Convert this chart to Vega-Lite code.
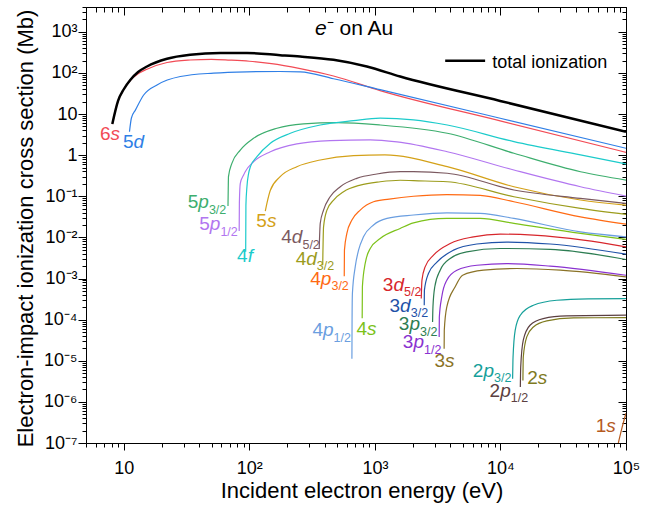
{
  "$schema": "https://vega.github.io/schema/vega-lite/v6.json",
  "width": 540,
  "height": 436,
  "autosize": {"type": "none"},
  "padding": {"left": 86, "top": 7, "right": 29, "bottom": 67},
  "background": "white",
  "config": {
    "view": {"stroke": null},
    "font": "Liberation Sans",
    "axis": {"grid": false, "domainColor": "black", "domainWidth": 1, "tickColor": "black", "tickWidth": 1, "labelColor": "black", "titleColor": "black", "labelFont": "Liberation Sans", "titleFont": "Liberation Sans", "titleFontWeight": "normal", "labelFlush": false, "labelOverlap": false, "labelBound": false}
  },
  "datasets": {
    "total": [
      {"E": 8.1, "sigma": 5.7}, {"E": 9.0, "sigma": 20.8}, {"E": 10.0, "sigma": 40}, {"E": 11.3, "sigma": 68}, {"E": 13, "sigma": 105},
      {"E": 15.3, "sigma": 143}, {"E": 22.1, "sigma": 220}, {"E": 33.8, "sigma": 275}, {"E": 58.6, "sigma": 303}, {"E": 95.7, "sigma": 303},
      {"E": 176, "sigma": 270}, {"E": 254, "sigma": 250}, {"E": 468, "sigma": 208}, {"E": 863, "sigma": 143}, {"E": 1590, "sigma": 81.5},
      {"E": 9950, "sigma": 20.8}, {"E": 100000, "sigma": 3.72}
    ],
    "curves": [
      {"shell": "6s", "E": 8.1, "sigma": 5.7}, {"shell": "6s", "E": 9.0, "sigma": 20.8}, {"shell": "6s", "E": 10.0, "sigma": 40}, {"shell": "6s", "E": 11.3, "sigma": 66},
      {"shell": "6s", "E": 13, "sigma": 95}, {"shell": "6s", "E": 15.3, "sigma": 123}, {"shell": "6s", "E": 22.1, "sigma": 179}, {"shell": "6s", "E": 33.8, "sigma": 206},
      {"shell": "6s", "E": 50, "sigma": 214}, {"shell": "6s", "E": 70, "sigma": 205}, {"shell": "6s", "E": 100, "sigma": 192}, {"shell": "6s", "E": 150, "sigma": 168},
      {"shell": "6s", "E": 254, "sigma": 127}, {"shell": "6s", "E": 468, "sigma": 84}, {"shell": "6s", "E": 1100, "sigma": 37}, {"shell": "6s", "E": 9950, "sigma": 6.8},
      {"shell": "6s", "E": 100000, "sigma": 1.17},

      {"shell": "5d", "E": 11.1, "sigma": 3.7}, {"shell": "5d", "E": 11.5, "sigma": 8}, {"shell": "5d", "E": 12.4, "sigma": 12.6}, {"shell": "5d", "E": 14.4, "sigma": 29},
      {"shell": "5d", "E": 18.4, "sigma": 51}, {"shell": "5d", "E": 28.2, "sigma": 81.5}, {"shell": "5d", "E": 51.9, "sigma": 98.7}, {"shell": "5d", "E": 95.7, "sigma": 106},
      {"shell": "5d", "E": 176, "sigma": 108}, {"shell": "5d", "E": 254, "sigma": 106}, {"shell": "5d", "E": 468, "sigma": 72}, {"shell": "5d", "E": 1100, "sigma": 39},
      {"shell": "5d", "E": 9950, "sigma": 7.9}, {"shell": "5d", "E": 100000, "sigma": 1.47},

      {"shell": "5p3/2", "E": 67.6, "sigma": 0.0577}, {"shell": "5p3/2", "E": 67.9, "sigma": 0.15}, {"shell": "5p3/2", "E": 68.2, "sigma": 0.3}, {"shell": "5p3/2", "E": 72.6, "sigma": 0.63},
      {"shell": "5p3/2", "E": 84.7, "sigma": 1.33}, {"shell": "5p3/2", "E": 108, "sigma": 2.57}, {"shell": "5p3/2", "E": 166, "sigma": 4.5}, {"shell": "5p3/2", "E": 270, "sigma": 5.74},
      {"shell": "5p3/2", "E": 497, "sigma": 6.17}, {"shell": "5p3/2", "E": 1100, "sigma": 5.4}, {"shell": "5p3/2", "E": 3770, "sigma": 3.4}, {"shell": "5p3/2", "E": 12800, "sigma": 1.11},
      {"shell": "5p3/2", "E": 43400, "sigma": 0.395}, {"shell": "5p3/2", "E": 100000, "sigma": 0.248},

      {"shell": "5p1/2", "E": 83, "sigma": 0.0142}, {"shell": "5p1/2", "E": 83.3, "sigma": 0.07}, {"shell": "5p1/2", "E": 84.7, "sigma": 0.206}, {"shell": "5p1/2", "E": 90, "sigma": 0.328},
      {"shell": "5p1/2", "E": 92.7, "sigma": 0.395}, {"shell": "5p1/2", "E": 108, "sigma": 0.69}, {"shell": "5p1/2", "E": 147, "sigma": 1.21}, {"shell": "5p1/2", "E": 239, "sigma": 1.87},
      {"shell": "5p1/2", "E": 440, "sigma": 2.25}, {"shell": "5p1/2", "E": 918, "sigma": 2.35}, {"shell": "5p1/2", "E": 1500, "sigma": 2.1}, {"shell": "5p1/2", "E": 3770, "sigma": 1.21},
      {"shell": "5p1/2", "E": 12800, "sigma": 0.434}, {"shell": "5p1/2", "E": 43400, "sigma": 0.17}, {"shell": "5p1/2", "E": 100000, "sigma": 0.101},

      {"shell": "4f", "E": 93.5, "sigma": 0.0045}, {"shell": "4f", "E": 93.9, "sigma": 0.06}, {"shell": "4f", "E": 95.7, "sigma": 0.171}, {"shell": "4f", "E": 98.5, "sigma": 0.35},
      {"shell": "4f", "E": 102, "sigma": 0.524}, {"shell": "4f", "E": 115, "sigma": 0.917}, {"shell": "4f", "E": 147, "sigma": 1.95}, {"shell": "4f", "E": 212, "sigma": 3.4},
      {"shell": "4f", "E": 367, "sigma": 5.4}, {"shell": "4f", "E": 676, "sigma": 6.9}, {"shell": "4f", "E": 1100, "sigma": 7.9}, {"shell": "4f", "E": 2030, "sigma": 7.2},
      {"shell": "4f", "E": 3770, "sigma": 5.4}, {"shell": "4f", "E": 12800, "sigma": 2.13}, {"shell": "4f", "E": 43400, "sigma": 1.01}, {"shell": "4f", "E": 100000, "sigma": 0.61},

      {"shell": "5s", "E": 134, "sigma": 0.0436}, {"shell": "5s", "E": 138, "sigma": 0.067}, {"shell": "5s", "E": 147, "sigma": 0.14}, {"shell": "5s", "E": 176, "sigma": 0.3},
      {"shell": "5s", "E": 239, "sigma": 0.524}, {"shell": "5s", "E": 367, "sigma": 0.762}, {"shell": "5s", "E": 676, "sigma": 0.97}, {"shell": "5s", "E": 1200, "sigma": 1.01},
      {"shell": "5s", "E": 3770, "sigma": 0.524}, {"shell": "5s", "E": 12800, "sigma": 0.17}, {"shell": "5s", "E": 43400, "sigma": 0.081}, {"shell": "5s", "E": 100000, "sigma": 0.061},

      {"shell": "4d5/2", "E": 360, "sigma": 0.0052}, {"shell": "4d5/2", "E": 367, "sigma": 0.0219}, {"shell": "4d5/2", "E": 390, "sigma": 0.0461}, {"shell": "4d5/2", "E": 440, "sigma": 0.0973},
      {"shell": "4d5/2", "E": 530, "sigma": 0.171}, {"shell": "4d5/2", "E": 717, "sigma": 0.273}, {"shell": "4d5/2", "E": 1036, "sigma": 0.348}, {"shell": "4d5/2", "E": 1590, "sigma": 0.395},
      {"shell": "4d5/2", "E": 2030, "sigma": 0.395}, {"shell": "4d5/2", "E": 3770, "sigma": 0.363}, {"shell": "4d5/2", "E": 12800, "sigma": 0.142}, {"shell": "4d5/2", "E": 43400, "sigma": 0.089},
      {"shell": "4d5/2", "E": 100000, "sigma": 0.067},

      {"shell": "4d3/2", "E": 384, "sigma": 0.0021}, {"shell": "4d3/2", "E": 390, "sigma": 0.018}, {"shell": "4d3/2", "E": 415, "sigma": 0.0461}, {"shell": "4d3/2", "E": 469, "sigma": 0.0807},
      {"shell": "4d3/2", "E": 563, "sigma": 0.129}, {"shell": "4d3/2", "E": 764, "sigma": 0.187}, {"shell": "4d3/2", "E": 1102, "sigma": 0.225}, {"shell": "4d3/2", "E": 1590, "sigma": 0.245},
      {"shell": "4d3/2", "E": 2030, "sigma": 0.239}, {"shell": "4d3/2", "E": 3770, "sigma": 0.225}, {"shell": "4d3/2", "E": 12800, "sigma": 0.0973}, {"shell": "4d3/2", "E": 43400, "sigma": 0.0507},
      {"shell": "4d3/2", "E": 100000, "sigma": 0.0362},

      {"shell": "4p3/2", "E": 570, "sigma": 0.00114}, {"shell": "4p3/2", "E": 572, "sigma": 0.0049}, {"shell": "4p3/2", "E": 598, "sigma": 0.0125}, {"shell": "4p3/2", "E": 656, "sigma": 0.0263},
      {"shell": "4p3/2", "E": 764, "sigma": 0.0461}, {"shell": "4p3/2", "E": 975, "sigma": 0.0735}, {"shell": "4p3/2", "E": 1300, "sigma": 0.085}, {"shell": "4p3/2", "E": 2030, "sigma": 0.1},
      {"shell": "4p3/2", "E": 3740, "sigma": 0.11}, {"shell": "4p3/2", "E": 6900, "sigma": 0.105}, {"shell": "4p3/2", "E": 12800, "sigma": 0.0735}, {"shell": "4p3/2", "E": 43400, "sigma": 0.0316},
      {"shell": "4p3/2", "E": 100000, "sigma": 0.021},

      {"shell": "4p1/2", "E": 656, "sigma": 0.0000112}, {"shell": "4p1/2", "E": 658, "sigma": 0.0001}, {"shell": "4p1/2", "E": 662, "sigma": 0.00043}, {"shell": "4p1/2", "E": 697, "sigma": 0.00192},
      {"shell": "4p1/2", "E": 741, "sigma": 0.0049}, {"shell": "4p1/2", "E": 811, "sigma": 0.0103}, {"shell": "4p1/2", "E": 975, "sigma": 0.02}, {"shell": "4p1/2", "E": 1248, "sigma": 0.0289},
      {"shell": "4p1/2", "E": 2030, "sigma": 0.035}, {"shell": "4p1/2", "E": 3740, "sigma": 0.0396}, {"shell": "4p1/2", "E": 6900, "sigma": 0.0384}, {"shell": "4p1/2", "E": 12800, "sigma": 0.0289},
      {"shell": "4p1/2", "E": 43400, "sigma": 0.0136}, {"shell": "4p1/2", "E": 100000, "sigma": 0.0103},

      {"shell": "4s", "E": 792, "sigma": 0.000108}, {"shell": "4s", "E": 795, "sigma": 0.00063}, {"shell": "4s", "E": 837, "sigma": 0.00232}, {"shell": "4s", "E": 918, "sigma": 0.00537},
      {"shell": "4s", "E": 1102, "sigma": 0.0094}, {"shell": "4s", "E": 1590, "sigma": 0.0165}, {"shell": "4s", "E": 2030, "sigma": 0.0225}, {"shell": "4s", "E": 3740, "sigma": 0.0289},
      {"shell": "4s", "E": 6900, "sigma": 0.0289}, {"shell": "4s", "E": 12800, "sigma": 0.0219}, {"shell": "4s", "E": 43400, "sigma": 0.0125}, {"shell": "4s", "E": 100000, "sigma": 0.0089},

      {"shell": "3d5/2", "E": 2340, "sigma": 0.000326}, {"shell": "3d5/2", "E": 2370, "sigma": 0.00091}, {"shell": "3d5/2", "E": 2512, "sigma": 0.00192}, {"shell": "3d5/2", "E": 2930, "sigma": 0.0037},
      {"shell": "3d5/2", "E": 3980, "sigma": 0.0071}, {"shell": "3d5/2", "E": 6100, "sigma": 0.0103}, {"shell": "3d5/2", "E": 9950, "sigma": 0.012}, {"shell": "3d5/2", "E": 18300, "sigma": 0.0113},
      {"shell": "3d5/2", "E": 45800, "sigma": 0.0086}, {"shell": "3d5/2", "E": 100000, "sigma": 0.0059},

      {"shell": "3d3/2", "E": 2472, "sigma": 0.000224}, {"shell": "3d3/2", "E": 2480, "sigma": 0.00052}, {"shell": "3d3/2", "E": 2670, "sigma": 0.00132}, {"shell": "3d3/2", "E": 3120, "sigma": 0.0025},
      {"shell": "3d3/2", "E": 4230, "sigma": 0.0049}, {"shell": "3d3/2", "E": 6490, "sigma": 0.0069}, {"shell": "3d3/2", "E": 11200, "sigma": 0.0077}, {"shell": "3d3/2", "E": 24900, "sigma": 0.0069},
      {"shell": "3d3/2", "E": 100000, "sigma": 0.0039},

      {"shell": "3p3/2", "E": 2880, "sigma": 0.000088}, {"shell": "3p3/2", "E": 2900, "sigma": 0.000204}, {"shell": "3p3/2", "E": 3000, "sigma": 0.00063}, {"shell": "3p3/2", "E": 3310, "sigma": 0.00159},
      {"shell": "3p3/2", "E": 3980, "sigma": 0.00307}, {"shell": "3p3/2", "E": 5400, "sigma": 0.00445}, {"shell": "3p3/2", "E": 9950, "sigma": 0.00537}, {"shell": "3p3/2", "E": 24900, "sigma": 0.0051},
      {"shell": "3p3/2", "E": 100000, "sigma": 0.0029},

      {"shell": "3p1/2", "E": 3250, "sigma": 0.000038}, {"shell": "3p1/2", "E": 3260, "sigma": 0.000116}, {"shell": "3p1/2", "E": 3410, "sigma": 0.00036}, {"shell": "3p1/2", "E": 3740, "sigma": 0.00091},
      {"shell": "3p1/2", "E": 4500, "sigma": 0.00159}, {"shell": "3p1/2", "E": 6490, "sigma": 0.0021}, {"shell": "3p1/2", "E": 11200, "sigma": 0.0023}, {"shell": "3p1/2", "E": 24900, "sigma": 0.002},
      {"shell": "3p1/2", "E": 100000, "sigma": 0.0012},

      {"shell": "3s", "E": 3560, "sigma": 0.0000197}, {"shell": "3s", "E": 3570, "sigma": 0.000055}, {"shell": "3s", "E": 3740, "sigma": 0.000204}, {"shell": "3s", "E": 4360, "sigma": 0.00063},
      {"shell": "3s", "E": 5000, "sigma": 0.0012}, {"shell": "3s", "E": 7330, "sigma": 0.00159}, {"shell": "3s", "E": 13500, "sigma": 0.00175}, {"shell": "3s", "E": 30000, "sigma": 0.0016},
      {"shell": "3s", "E": 100000, "sigma": 0.0011},

      {"shell": "2p3/2", "E": 12500, "sigma": 0.00000366}, {"shell": "2p3/2", "E": 12600, "sigma": 0.0000123}, {"shell": "2p3/2", "E": 13100, "sigma": 0.000055}, {"shell": "2p3/2", "E": 14400, "sigma": 0.000128},
      {"shell": "2p3/2", "E": 18300, "sigma": 0.000224}, {"shell": "2p3/2", "E": 28100, "sigma": 0.000296}, {"shell": "2p3/2", "E": 50000, "sigma": 0.00032}, {"shell": "2p3/2", "E": 100000, "sigma": 0.000326},

      {"shell": "2p1/2", "E": 14400, "sigma": 0.00000229}, {"shell": "2p1/2", "E": 14500, "sigma": 0.000007}, {"shell": "2p1/2", "E": 15200, "sigma": 0.0000316}, {"shell": "2p1/2", "E": 17200, "sigma": 0.000073},
      {"shell": "2p1/2", "E": 21900, "sigma": 0.000106}, {"shell": "2p1/2", "E": 33700, "sigma": 0.000123}, {"shell": "2p1/2", "E": 100000, "sigma": 0.000128},

      {"shell": "2s", "E": 15100, "sigma": 0.00000333}, {"shell": "2s", "E": 15200, "sigma": 0.0000123}, {"shell": "2s", "E": 16200, "sigma": 0.000038}, {"shell": "2s", "E": 18300, "sigma": 0.000066},
      {"shell": "2s", "E": 23400, "sigma": 0.000093}, {"shell": "2s", "E": 38200, "sigma": 0.00011}, {"shell": "2s", "E": 100000, "sigma": 0.000112},

      {"shell": "1s", "E": 86900, "sigma": 0.0000001}, {"shell": "1s", "E": 93100, "sigma": 0.000000239}, {"shell": "1s", "E": 100000, "sigma": 0.00000053}
    ],
    "labels": [
      {"shell": "6s", "n": "6", "l": "s", "j": null, "E": 7.85, "sigma": 2.27},
      {"shell": "5d", "n": "5", "l": "d", "j": null, "E": 11.97, "sigma": 1.465},
      {"shell": "5p3/2", "n": "5", "l": "p", "j": "3/2", "E": 39.2, "sigma": 0.0509},
      {"shell": "5p1/2", "n": "5", "l": "p", "j": "1/2", "E": 48.4, "sigma": 0.0151},
      {"shell": "4f", "n": "4", "l": "f", "j": null, "E": 96.9, "sigma": 0.00256},
      {"shell": "5s", "n": "5", "l": "s", "j": null, "E": 138, "sigma": 0.0182},
      {"shell": "4d5/2", "n": "4", "l": "d", "j": "5/2", "E": 218, "sigma": 0.00717},
      {"shell": "4d3/2", "n": "4", "l": "d", "j": "3/2", "E": 284, "sigma": 0.00219},
      {"shell": "4p3/2", "n": "4", "l": "p", "j": "3/2", "E": 371, "sigma": 0.000706},
      {"shell": "4p1/2", "n": "4", "l": "p", "j": "1/2", "E": 386, "sigma": 0.0000399},
      {"shell": "4s", "n": "4", "l": "s", "j": null, "E": 865, "sigma": 0.0000415},
      {"shell": "3d5/2", "n": "3", "l": "d", "j": "5/2", "E": 1404, "sigma": 0.000504},
      {"shell": "3d3/2", "n": "3", "l": "d", "j": "3/2", "E": 1588, "sigma": 0.0001556},
      {"shell": "3p3/2", "n": "3", "l": "p", "j": "3/2", "E": 1883, "sigma": 0.0000558},
      {"shell": "3p1/2", "n": "3", "l": "p", "j": "1/2", "E": 2027, "sigma": 0.00002},
      {"shell": "3s", "n": "3", "l": "s", "j": null, "E": 3624, "sigma": 0.00000692},
      {"shell": "2p3/2", "n": "2", "l": "p", "j": "3/2", "E": 7316, "sigma": 0.00000408},
      {"shell": "2p1/2", "n": "2", "l": "p", "j": "1/2", "E": 9941, "sigma": 0.00000133},
      {"shell": "2s", "n": "2", "l": "s", "j": null, "E": 19840, "sigma": 0.00000272},
      {"shell": "1s", "n": "1", "l": "s", "j": null, "E": 69700, "sigma": 0.000000185}
    ]
  },
  "layer": [
    {
      "data": {"name": "curves"},
      "mark": {"type": "line", "strokeWidth": 1.2, "interpolate": "monotone", "clip": true},
      "encoding": {
        "x": {
          "field": "E", "type": "quantitative",
          "scale": {"type": "log", "domain": [5, 100000], "nice": false},
          "axis": {
            "orient": "bottom",
            "values": [5,6,7,8,9,10,20,30,40,50,60,70,80,90,100,200,300,400,500,600,700,800,900,1000,2000,3000,4000,5000,6000,7000,8000,9000,10000,20000,30000,40000,50000,60000,70000,80000,90000,100000],
            "labelExpr": "datum.value === 10 ? '10' : datum.value === 100 ? '10²' : datum.value === 1000 ? '10³' : datum.value === 10000 ? '10⁴' : datum.value === 100000 ? '10⁵' : ''",
            "tickSize": {"condition": {"test": "abs(log(datum.value)/LN10 - round(log(datum.value)/LN10)) < 0.001", "value": 7}, "value": 4},
            "labelFontSize": 18, "labelPadding": 23, "labelBaseline": "alphabetic", "labelAlign": "center",
            "title": "Incident electron energy (eV)", "titleFontSize": 22,
            "titleX": 275.5, "titleY": 54, "titleBaseline": "alphabetic", "titleAlign": "center"
          }
        },
        "y": {
          "field": "sigma", "type": "quantitative",
          "scale": {"type": "log", "domain": [0.0000001, 4000], "nice": false},
          "axis": {
            "orient": "left",
            "values": [1e-7,2e-7,3e-7,4e-7,5e-7,6e-7,7e-7,8e-7,9e-7,1e-6,2e-6,3e-6,4e-6,5e-6,6e-6,7e-6,8e-6,9e-6,1e-5,2e-5,3e-5,4e-5,5e-5,6e-5,7e-5,8e-5,9e-5,1e-4,2e-4,3e-4,4e-4,5e-4,6e-4,7e-4,8e-4,9e-4,0.001,0.002,0.003,0.004,0.005,0.006,0.007,0.008,0.009,0.01,0.02,0.03,0.04,0.05,0.06,0.07,0.08,0.09,0.1,0.2,0.3,0.4,0.5,0.6,0.7,0.8,0.9,1,2,3,4,5,6,7,8,9,10,20,30,40,50,60,70,80,90,100,200,300,400,500,600,700,800,900,1000,2000,3000,4000],
            "labelExpr": "datum.value === 1000 ? '10³' : datum.value === 100 ? '10²' : datum.value === 10 ? '10' : datum.value === 1 ? '1' : datum.value === 0.1 ? '10⁻¹' : datum.value === 0.01 ? '10⁻²' : datum.value === 0.001 ? '10⁻³' : datum.value === 0.0001 ? '10⁻⁴' : datum.value === 0.00001 ? '10⁻⁵' : datum.value === 0.000001 ? '10⁻⁶' : datum.value === 0.0000001 ? '10⁻⁷' : ''",
            "tickSize": {"condition": {"test": "abs(log(datum.value)/LN10 - round(log(datum.value)/LN10)) < 0.001", "value": 8}, "value": 4},
            "labelFontSize": 18, "labelPadding": 1, "labelAlign": "right", "labelBaseline": "middle",
            "title": "Electron-impact ionization cross section (Mb)", "titleFontSize": 22,
            "titleX": -54, "titleY": 221, "titleAngle": -90, "titleBaseline": "alphabetic", "titleAlign": "center"
          }
        },
        "color": {
          "field": "shell", "type": "nominal", "legend": null,
          "scale": {
            "domain": ["6s","5d","5p3/2","5p1/2","4f","5s","4d5/2","4d3/2","4p3/2","4p1/2","4s","3d5/2","3d3/2","3p3/2","3p1/2","3s","2p3/2","2p1/2","2s","1s"],
            "range": ["#F24B55","#2F7FE6","#3DAE6E","#B276F0","#1CCBCB","#D4A118","#7B5960","#9C9C1C","#FF6A13","#6A9EE0","#7CC21A","#D7262C","#1F52A8","#2D7D52","#8A32D0","#8A7226","#16A09A","#5B3F41","#7E7A1E","#B55A1F"]
          }
        }
      }
    },
    {
      "data": {"name": "total"},
      "mark": {"type": "line", "strokeWidth": 2.5, "color": "black", "interpolate": "monotone", "clip": true},
      "encoding": {
        "x": {
          "field": "E", "type": "quantitative",
          "scale": {"type": "log", "domain": [5, 100000], "nice": false},
          "axis": {
            "orient": "top", "labels": false, "title": null,
            "values": [5,6,7,8,9,10,20,30,40,50,60,70,80,90,100,200,300,400,500,600,700,800,900,1000,2000,3000,4000,5000,6000,7000,8000,9000,10000,20000,30000,40000,50000,60000,70000,80000,90000,100000],
            "tickSize": {"condition": {"test": "abs(log(datum.value)/LN10 - round(log(datum.value)/LN10)) < 0.001", "value": -8}, "value": -5}
          }
        },
        "y": {
          "field": "sigma", "type": "quantitative",
          "scale": {"type": "log", "domain": [0.0000001, 4000], "nice": false},
          "axis": {
            "orient": "right", "labels": false, "title": null,
            "values": [1e-7,2e-7,3e-7,4e-7,5e-7,6e-7,7e-7,8e-7,9e-7,1e-6,2e-6,3e-6,4e-6,5e-6,6e-6,7e-6,8e-6,9e-6,1e-5,2e-5,3e-5,4e-5,5e-5,6e-5,7e-5,8e-5,9e-5,1e-4,2e-4,3e-4,4e-4,5e-4,6e-4,7e-4,8e-4,9e-4,0.001,0.002,0.003,0.004,0.005,0.006,0.007,0.008,0.009,0.01,0.02,0.03,0.04,0.05,0.06,0.07,0.08,0.09,0.1,0.2,0.3,0.4,0.5,0.6,0.7,0.8,0.9,1,2,3,4,5,6,7,8,9,10,20,30,40,50,60,70,80,90,100,200,300,400,500,600,700,800,900,1000,2000,3000,4000],
            "tickSize": {"condition": {"test": "abs(log(datum.value)/LN10 - round(log(datum.value)/LN10)) < 0.001", "value": -8}, "value": -4}
          }
        }
      }
    },
    {
      "data": {"values": [{"E": 3630, "E2": 7550, "sigma": 196}]},
      "mark": {"type": "rule", "strokeWidth": 2.5, "color": "black"},
      "encoding": {
        "x": {"field": "E", "type": "quantitative", "axis": null},
        "x2": {"field": "E2"},
        "y": {"field": "sigma", "type": "quantitative", "axis": null}
      }
    },
    {
      "data": {"values": [{"E": 8590, "sigma": 134, "text": "total ionization"}]},
      "mark": {"type": "text", "align": "left", "baseline": "alphabetic", "fontSize": 18, "font": "Liberation Sans", "color": "black"},
      "encoding": {
        "x": {"field": "E", "type": "quantitative", "axis": null},
        "y": {"field": "sigma", "type": "quantitative", "axis": null},
        "text": {"field": "text"}
      }
    },
    {
      "data": {"values": [{"E": 333, "sigma": 834, "text": "e"}]},
      "mark": {"type": "text", "align": "left", "baseline": "alphabetic", "fontSize": 21, "font": "Liberation Sans", "fontStyle": "italic", "color": "black"},
      "encoding": {
        "x": {"field": "E", "type": "quantitative", "axis": null},
        "y": {"field": "sigma", "type": "quantitative", "axis": null},
        "text": {"field": "text"}
      }
    },
    {
      "data": {"values": [{"E": 413, "sigma": 834, "text": "⁻ on Au"}]},
      "mark": {"type": "text", "align": "left", "baseline": "alphabetic", "fontSize": 21, "font": "Liberation Sans", "color": "black"},
      "encoding": {
        "x": {"field": "E", "type": "quantitative", "axis": null},
        "y": {"field": "sigma", "type": "quantitative", "axis": null},
        "text": {"field": "text"}
      }
    },
    {
      "data": {"name": "labels"},
      "mark": {"type": "text", "align": "right", "baseline": "alphabetic", "fontSize": 19, "font": "Liberation Sans"},
      "encoding": {
        "x": {"field": "E", "type": "quantitative", "axis": null},
        "y": {"field": "sigma", "type": "quantitative", "axis": null},
        "text": {"field": "n"},
        "color": {"field": "shell", "type": "nominal", "legend": null}
      }
    },
    {
      "data": {"name": "labels"},
      "mark": {"type": "text", "align": "left", "baseline": "alphabetic", "fontSize": 19, "font": "Liberation Sans", "fontStyle": "italic"},
      "encoding": {
        "x": {"field": "E", "type": "quantitative", "axis": null},
        "y": {"field": "sigma", "type": "quantitative", "axis": null},
        "text": {"field": "l"},
        "color": {"field": "shell", "type": "nominal", "legend": null}
      }
    },
    {
      "data": {"name": "labels"},
      "transform": [{"filter": "datum.j != null"}],
      "mark": {"type": "text", "align": "left", "baseline": "alphabetic", "fontSize": 12.5, "font": "Liberation Sans", "dx": 10.6, "dy": 5.5},
      "encoding": {
        "x": {"field": "E", "type": "quantitative", "axis": null},
        "y": {"field": "sigma", "type": "quantitative", "axis": null},
        "text": {"field": "j"},
        "color": {"field": "shell", "type": "nominal", "legend": null}
      }
    }
  ],
  "resolve": {"axis": {"x": "independent", "y": "independent"}}
}
